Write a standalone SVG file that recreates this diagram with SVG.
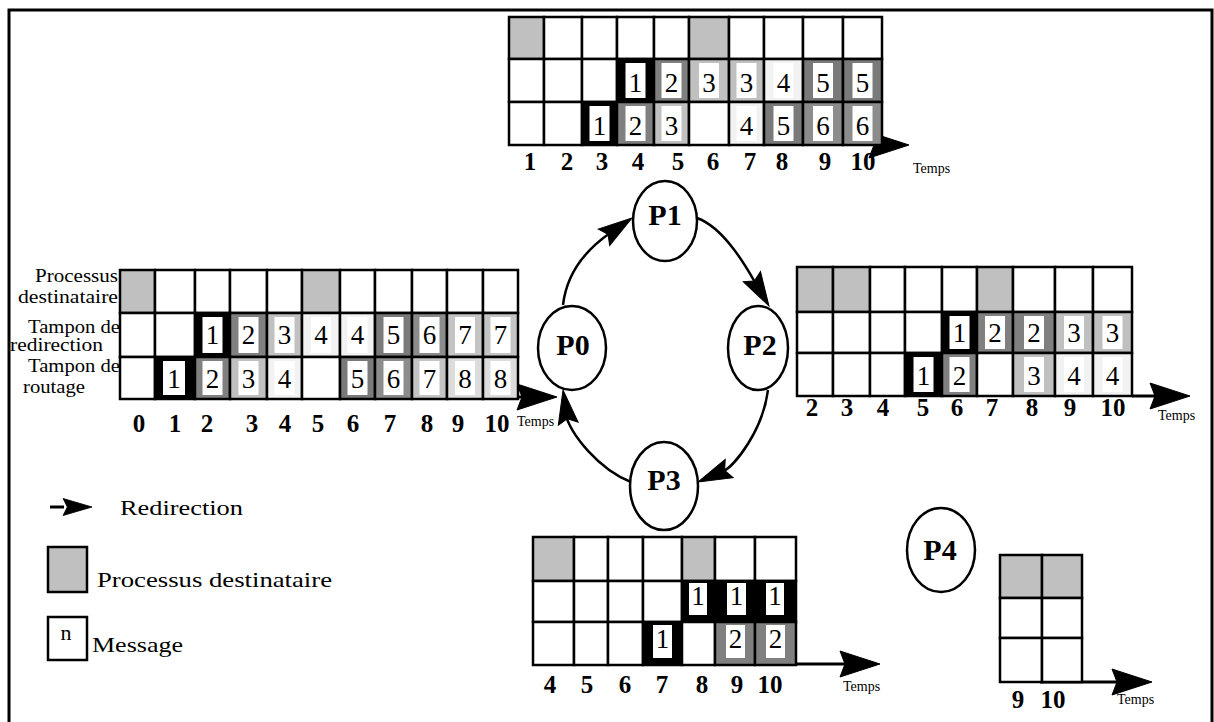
<svg xmlns="http://www.w3.org/2000/svg" xmlns:xlink="http://www.w3.org/1999/xlink" width="1214" height="722" viewBox="0 0 1214 722" font-family="'Liberation Serif', 'Times New Roman', Tinos, Times, serif">
<style>
text{font-family:'Liberation Serif','Times New Roman',Tinos,Times,serif;fill:#000}
.c{fill:#fff;stroke:#000;stroke-width:2.5}
.d{fill:#c0c0c0}
.m1{fill:#000}.m2{fill:#808080}.m3{fill:#c0c0c0}.m4{fill:#f2f2f2}
.m5{fill:#7a7a7a}.m6{fill:#8c8c8c}.m7{fill:#c4c4c4}.m8{fill:#dcdcdc}
.w{fill:#fff}
.num{font-size:27px;text-anchor:middle}
.ax{font-size:25px;font-weight:bold;text-anchor:middle}
.pn{font-size:30px;font-weight:bold;text-anchor:middle}
.lbl{font-size:18px}
.leg{font-size:22px}
.tp{font-size:14px}
.node{fill:#fff;stroke:#000;stroke-width:2.5}
.ring{fill:none;stroke:#000;stroke-width:2.5}
.axis{fill:none;stroke:#000;stroke-width:3}
.ah{fill:#000;stroke:#000;stroke-width:1;stroke-linejoin:miter}
</style>
<defs>
<path id="rh" class="ah" d="M0,0 L-34,-10 L-29,0 L-34,10 z"/>
<path id="xh" class="ah" d="M0,0 L-40,-13 L-35,0 L-40,13 z"/>
</defs>
<rect x="9" y="10" width="1203" height="720" fill="#fff" stroke="#000" stroke-width="3"/>

<g id="connectors">
<path class="ring" d="M563 305 C568 262,600 240,610 233"/>
<use xlink:href="#rh" href="#rh" transform="translate(632 218) rotate(-34.5)"/>
<path class="ring" d="M697 218 C725 228,748 270,756 284"/>
<use xlink:href="#rh" href="#rh" transform="translate(769 306) rotate(59.7)"/>
<path class="ring" d="M768 390 C763 430,735 466,722 472"/>
<use xlink:href="#rh" href="#rh" transform="translate(698 482) rotate(156.6)"/>
<path class="ring" d="M631 482 C600 470,570 435,565 412"/>
<use xlink:href="#rh" href="#rh" transform="translate(563 390) rotate(-98.8)"/>
<path class="axis" d="M876 145 L880 145"/>
<use xlink:href="#xh" href="#xh" transform="translate(909 145)"/>
<path class="axis" d="M518 397 L525 397"/>
<use xlink:href="#xh" href="#xh" transform="translate(557 397)"/>
<path class="axis" d="M1132 396 L1160 396"/>
<use xlink:href="#xh" href="#xh" transform="translate(1190 396)"/>
<path class="axis" d="M796 664 L850 664"/>
<use xlink:href="#xh" href="#xh" transform="translate(880 664)"/>
<path class="axis" d="M1040 682 L1122 682"/>
<use xlink:href="#xh" href="#xh" transform="translate(1152 682)"/>
</g>

<g id="P0"><ellipse class="node" cx="572" cy="348" rx="34" ry="42"/><text class="pn" x="573" y="355">P0</text></g>
<g id="P1"><ellipse class="node" cx="665" cy="221" rx="32" ry="40"/><text class="pn" x="665" y="225">P1</text></g>
<g id="P2"><ellipse class="node" cx="758" cy="348" rx="30" ry="42"/><text class="pn" x="760" y="355">P2</text></g>
<g id="P3"><ellipse class="node" cx="664" cy="486" rx="34" ry="44"/><text class="pn" x="664" y="490">P3</text></g>
<g id="P4"><ellipse class="node" cx="941" cy="550" rx="34" ry="42"/><text class="pn" x="940" y="560">P4</text></g>

<g id="table-P1">
<rect class="c d" x="509" y="17" width="35" height="42"/><rect class="c" x="544" y="17" width="38" height="42"/><rect class="c" x="582" y="17" width="35" height="42"/><rect class="c" x="617" y="17" width="37" height="42"/><rect class="c" x="654" y="17" width="35" height="42"/><rect class="c d" x="689" y="17" width="40" height="42"/><rect class="c" x="729" y="17" width="35" height="42"/><rect class="c" x="764" y="17" width="39" height="42"/><rect class="c" x="803" y="17" width="40" height="42"/><rect class="c" x="843" y="17" width="39" height="42"/>
<rect class="c" x="509" y="59" width="35" height="43"/><rect class="c" x="544" y="59" width="38" height="43"/><rect class="c" x="582" y="59" width="35" height="43"/><rect class="c m1" x="617" y="59" width="37" height="43"/><rect class="c m2" x="654" y="59" width="35" height="43"/><rect class="c m3" x="689" y="59" width="40" height="43"/><rect class="c m3" x="729" y="59" width="35" height="43"/><rect class="c m4" x="764" y="59" width="39" height="43"/><rect class="c m5" x="803" y="59" width="40" height="43"/><rect class="c m5" x="843" y="59" width="39" height="43"/>
<rect class="c" x="509" y="102" width="35" height="43"/><rect class="c" x="544" y="102" width="38" height="43"/><rect class="c m1" x="582" y="102" width="35" height="43"/><rect class="c m2" x="617" y="102" width="37" height="43"/><rect class="c m3" x="654" y="102" width="35" height="43"/><rect class="c" x="689" y="102" width="40" height="43"/><rect class="c m4" x="729" y="102" width="35" height="43"/><rect class="c m5" x="764" y="102" width="39" height="43"/><rect class="c m6" x="803" y="102" width="40" height="43"/><rect class="c m6" x="843" y="102" width="39" height="43"/>
<g class="w">
<rect x="625.5" y="63" width="20" height="35"/><rect x="661.5" y="63" width="20" height="35"/><rect x="699" y="63" width="20" height="35"/><rect x="736.5" y="63" width="20" height="35"/><rect x="773.5" y="63" width="20" height="35"/><rect x="813" y="63" width="20" height="35"/><rect x="852.5" y="63" width="20" height="35"/>
<rect x="589.5" y="106" width="20" height="35"/><rect x="625.5" y="106" width="20" height="35"/><rect x="661.5" y="106" width="20" height="35"/><rect x="736.5" y="106" width="20" height="35"/><rect x="773.5" y="106" width="20" height="35"/><rect x="813" y="106" width="20" height="35"/><rect x="852.5" y="106" width="20" height="35"/>
</g>
<text class="num" x="635.5" y="92">1</text><text class="num" x="671.5" y="92">2</text><text class="num" x="709" y="92">3</text><text class="num" x="746.5" y="92">3</text><text class="num" x="783.5" y="92">4</text><text class="num" x="823" y="92">5</text><text class="num" x="862.5" y="92">5</text>
<text class="num" x="599.5" y="135">1</text><text class="num" x="635.5" y="135">2</text><text class="num" x="671.5" y="135">3</text><text class="num" x="746.5" y="135">4</text><text class="num" x="783.5" y="135">5</text><text class="num" x="823" y="135">6</text><text class="num" x="862.5" y="135">6</text>
<text class="ax" x="530" y="170">1</text><text class="ax" x="567" y="170">2</text><text class="ax" x="602" y="170">3</text><text class="ax" x="638" y="170">4</text><text class="ax" x="678" y="170">5</text><text class="ax" x="713" y="170">6</text><text class="ax" x="750" y="170">7</text><text class="ax" x="782" y="170">8</text><text class="ax" x="825" y="170">9</text><text class="ax" x="863" y="170">10</text>
<text class="tp" x="913" y="173">Temps</text>
</g>

<g id="table-P0">
<text class="lbl" x="35" y="282" textLength="83" lengthAdjust="spacingAndGlyphs">Processus</text>
<text class="lbl" x="18" y="303" textLength="100" lengthAdjust="spacingAndGlyphs">destinataire</text>
<text class="lbl" x="28" y="333" textLength="92" lengthAdjust="spacingAndGlyphs">Tampon de</text>
<text class="lbl" x="10" y="351" textLength="93" lengthAdjust="spacingAndGlyphs">redirection</text>
<text class="lbl" x="28" y="372" textLength="92" lengthAdjust="spacingAndGlyphs">Tampon de</text>
<text class="lbl" x="23" y="393" textLength="62" lengthAdjust="spacingAndGlyphs">routage</text>
<rect class="c d" x="120" y="270" width="35" height="43"/><rect class="c" x="155" y="270" width="40" height="43"/><rect class="c" x="195" y="270" width="35" height="43"/><rect class="c" x="230" y="270" width="37" height="43"/><rect class="c" x="267" y="270" width="35" height="43"/><rect class="c d" x="302" y="270" width="38" height="43"/><rect class="c" x="340" y="270" width="35" height="43"/><rect class="c" x="375" y="270" width="37" height="43"/><rect class="c" x="412" y="270" width="35" height="43"/><rect class="c" x="447" y="270" width="36" height="43"/><rect class="c" x="483" y="270" width="35" height="43"/>
<rect class="c" x="120" y="313" width="35" height="44"/><rect class="c" x="155" y="313" width="40" height="44"/><rect class="c m1" x="195" y="313" width="35" height="44"/><rect class="c m2" x="230" y="313" width="37" height="44"/><rect class="c m3" x="267" y="313" width="35" height="44"/><rect class="c m4" x="302" y="313" width="38" height="44"/><rect class="c m4" x="340" y="313" width="35" height="44"/><rect class="c m5" x="375" y="313" width="37" height="44"/><rect class="c m6" x="412" y="313" width="35" height="44"/><rect class="c m7" x="447" y="313" width="36" height="44"/><rect class="c m7" x="483" y="313" width="35" height="44"/>
<rect class="c" x="120" y="357" width="35" height="42"/><rect class="c m1" x="155" y="357" width="40" height="42"/><rect class="c m2" x="195" y="357" width="35" height="42"/><rect class="c m3" x="230" y="357" width="37" height="42"/><rect class="c m4" x="267" y="357" width="35" height="42"/><rect class="c" x="302" y="357" width="38" height="42"/><rect class="c m5" x="340" y="357" width="35" height="42"/><rect class="c m6" x="375" y="357" width="37" height="42"/><rect class="c m7" x="412" y="357" width="35" height="42"/><rect class="c m8" x="447" y="357" width="36" height="42"/><rect class="c m8" x="483" y="357" width="35" height="42"/>
<g class="w">
<rect x="202.5" y="317" width="20" height="36"/><rect x="238.5" y="317" width="20" height="36"/><rect x="274.5" y="317" width="20" height="36"/><rect x="311" y="317" width="20" height="36"/><rect x="347.5" y="317" width="20" height="36"/><rect x="383.5" y="317" width="20" height="36"/><rect x="419.5" y="317" width="20" height="36"/><rect x="455" y="317" width="20" height="36"/><rect x="490.5" y="317" width="20" height="36"/>
<rect x="163" y="361" width="22" height="34"/><rect x="202.5" y="361" width="20" height="34"/><rect x="238.5" y="361" width="20" height="34"/><rect x="274.5" y="361" width="20" height="34"/><rect x="347.5" y="361" width="20" height="34"/><rect x="383.5" y="361" width="20" height="34"/><rect x="419.5" y="361" width="20" height="34"/><rect x="455" y="361" width="20" height="34"/><rect x="490.5" y="361" width="20" height="34"/>
</g>
<text class="num" x="212.5" y="344">1</text><text class="num" x="248.5" y="344">2</text><text class="num" x="284.5" y="344">3</text><text class="num" x="321" y="344">4</text><text class="num" x="357.5" y="344">4</text><text class="num" x="393.5" y="344">5</text><text class="num" x="429.5" y="344">6</text><text class="num" x="465" y="344">7</text><text class="num" x="500.5" y="344">7</text>
<text class="num" x="174" y="388">1</text><text class="num" x="212.5" y="388">2</text><text class="num" x="248.5" y="388">3</text><text class="num" x="284.5" y="388">4</text><text class="num" x="357.5" y="388">5</text><text class="num" x="393.5" y="388">6</text><text class="num" x="429.5" y="388">7</text><text class="num" x="465" y="388">8</text><text class="num" x="500.5" y="388">8</text>
<text class="ax" x="139" y="432">0</text><text class="ax" x="175" y="432">1</text><text class="ax" x="207" y="432">2</text><text class="ax" x="252" y="432">3</text><text class="ax" x="285" y="432">4</text><text class="ax" x="318" y="432">5</text><text class="ax" x="353" y="432">6</text><text class="ax" x="390" y="432">7</text><text class="ax" x="427" y="432">8</text><text class="ax" x="458" y="432">9</text><text class="ax" x="497" y="432">10</text>
<text class="tp" x="517" y="426">Temps</text>
</g>

<g id="table-P2">
<rect class="c d" x="797" y="267" width="36" height="45"/><rect class="c d" x="833" y="267" width="37" height="45"/><rect class="c" x="870" y="267" width="35" height="45"/><rect class="c" x="905" y="267" width="37" height="45"/><rect class="c" x="942" y="267" width="35" height="45"/><rect class="c d" x="977" y="267" width="36" height="45"/><rect class="c" x="1013" y="267" width="42" height="45"/><rect class="c" x="1055" y="267" width="38" height="45"/><rect class="c" x="1093" y="267" width="39" height="45"/>
<rect class="c" x="797" y="312" width="36" height="41"/><rect class="c" x="833" y="312" width="37" height="41"/><rect class="c" x="870" y="312" width="35" height="41"/><rect class="c" x="905" y="312" width="37" height="41"/><rect class="c m1" x="942" y="312" width="35" height="41"/><rect class="c m2" x="977" y="312" width="36" height="41"/><rect class="c m2" x="1013" y="312" width="42" height="41"/><rect class="c m3" x="1055" y="312" width="38" height="41"/><rect class="c m3" x="1093" y="312" width="39" height="41"/>
<rect class="c" x="797" y="353" width="36" height="43"/><rect class="c" x="833" y="353" width="37" height="43"/><rect class="c" x="870" y="353" width="35" height="43"/><rect class="c m1" x="905" y="353" width="37" height="43"/><rect class="c m2" x="942" y="353" width="35" height="43"/><rect class="c" x="977" y="353" width="36" height="43"/><rect class="c m3" x="1013" y="353" width="42" height="43"/><rect class="c m4" x="1055" y="353" width="38" height="43"/><rect class="c m4" x="1093" y="353" width="39" height="43"/>
<g class="w">
<rect x="949.5" y="316" width="20" height="33"/><rect x="985" y="316" width="20" height="33"/><rect x="1024" y="316" width="20" height="33"/><rect x="1064" y="316" width="20" height="33"/><rect x="1102.5" y="316" width="20" height="33"/>
<rect x="913.5" y="357" width="20" height="35"/><rect x="949.5" y="357" width="20" height="35"/><rect x="1024" y="357" width="20" height="35"/><rect x="1064" y="357" width="20" height="35"/><rect x="1102.5" y="357" width="20" height="35"/>
</g>
<text class="num" x="959.5" y="342">1</text><text class="num" x="995" y="342">2</text><text class="num" x="1034" y="342">2</text><text class="num" x="1074" y="342">3</text><text class="num" x="1112.5" y="342">3</text>
<text class="num" x="923.5" y="385">1</text><text class="num" x="959.5" y="385">2</text><text class="num" x="1034" y="385">3</text><text class="num" x="1074" y="385">4</text><text class="num" x="1112.5" y="385">4</text>
<text class="ax" x="812" y="416">2</text><text class="ax" x="847" y="416">3</text><text class="ax" x="883" y="416">4</text><text class="ax" x="923" y="416">5</text><text class="ax" x="957" y="416">6</text><text class="ax" x="992" y="416">7</text><text class="ax" x="1032" y="416">8</text><text class="ax" x="1070" y="416">9</text><text class="ax" x="1113" y="416">10</text>
<text class="tp" x="1158" y="420">Temps</text>
</g>

<g id="table-P3">
<rect class="c d" x="533" y="537" width="41" height="44"/><rect class="c" x="574" y="537" width="34" height="44"/><rect class="c" x="608" y="537" width="35" height="44"/><rect class="c" x="643" y="537" width="39" height="44"/><rect class="c d" x="682" y="537" width="33" height="44"/><rect class="c" x="715" y="537" width="40" height="44"/><rect class="c" x="755" y="537" width="41" height="44"/>
<rect class="c" x="533" y="581" width="41" height="41"/><rect class="c" x="574" y="581" width="34" height="41"/><rect class="c" x="608" y="581" width="35" height="41"/><rect class="c" x="643" y="581" width="39" height="41"/><rect class="c m1" x="682" y="581" width="33" height="41"/><rect class="c m1" x="715" y="581" width="40" height="41"/><rect class="c m1" x="755" y="581" width="41" height="41"/>
<rect class="c" x="533" y="622" width="41" height="43"/><rect class="c" x="574" y="622" width="34" height="43"/><rect class="c" x="608" y="622" width="35" height="43"/><rect class="c m1" x="643" y="622" width="39" height="43"/><rect class="c" x="682" y="622" width="33" height="43"/><rect class="c m2" x="715" y="622" width="40" height="43"/><rect class="c m2" x="755" y="622" width="41" height="43"/>
<g class="w">
<rect x="689" y="583" width="18" height="32"/><rect x="727" y="583" width="19" height="32"/><rect x="766" y="583" width="18" height="32"/>
<rect x="653" y="625" width="19" height="33"/><rect x="726" y="625" width="19" height="33"/><rect x="766" y="625" width="19" height="33"/>
</g>
<text class="num" x="698" y="605">1</text><text class="num" x="736.5" y="605">1</text><text class="num" x="775" y="605">1</text>
<text class="num" x="662.5" y="648">1</text><text class="num" x="735.5" y="648">2</text><text class="num" x="775.5" y="648">2</text>
<text class="ax" x="550" y="693">4</text><text class="ax" x="587" y="693">5</text><text class="ax" x="625" y="693">6</text><text class="ax" x="662" y="693">7</text><text class="ax" x="702" y="693">8</text><text class="ax" x="737" y="693">9</text><text class="ax" x="770" y="693">10</text>
<text class="tp" x="843" y="691">Temps</text>
</g>

<g id="table-P4">
<rect class="c d" x="1000" y="555" width="42" height="43"/><rect class="c d" x="1042" y="555" width="40" height="43"/>
<rect class="c" x="1000" y="598" width="42" height="40"/><rect class="c" x="1042" y="598" width="40" height="40"/>
<rect class="c" x="1000" y="638" width="42" height="44"/><rect class="c" x="1042" y="638" width="40" height="44"/>
<text class="ax" x="1018" y="708">9</text><text class="ax" x="1053" y="708">10</text>
<text class="tp" x="1117" y="704">Temps</text>
</g>

<g id="legend">
<path d="M50 507 L64 507" stroke="#000" stroke-width="3"/>
<use xlink:href="#rh" href="#rh" transform="translate(92 507) scale(0.85)"/>
<text class="leg" x="120" y="515" textLength="123" lengthAdjust="spacingAndGlyphs">Redirection</text>
<rect class="c d" x="48" y="547" width="39" height="45"/>
<text class="leg" x="97" y="587" textLength="235" lengthAdjust="spacingAndGlyphs">Processus destinataire</text>
<rect class="c" x="48" y="617" width="39" height="43"/>
<text class="leg" x="66" y="640" text-anchor="middle">n</text>
<text class="leg" x="92" y="652" textLength="91" lengthAdjust="spacingAndGlyphs">Message</text>
</g>
</svg>
